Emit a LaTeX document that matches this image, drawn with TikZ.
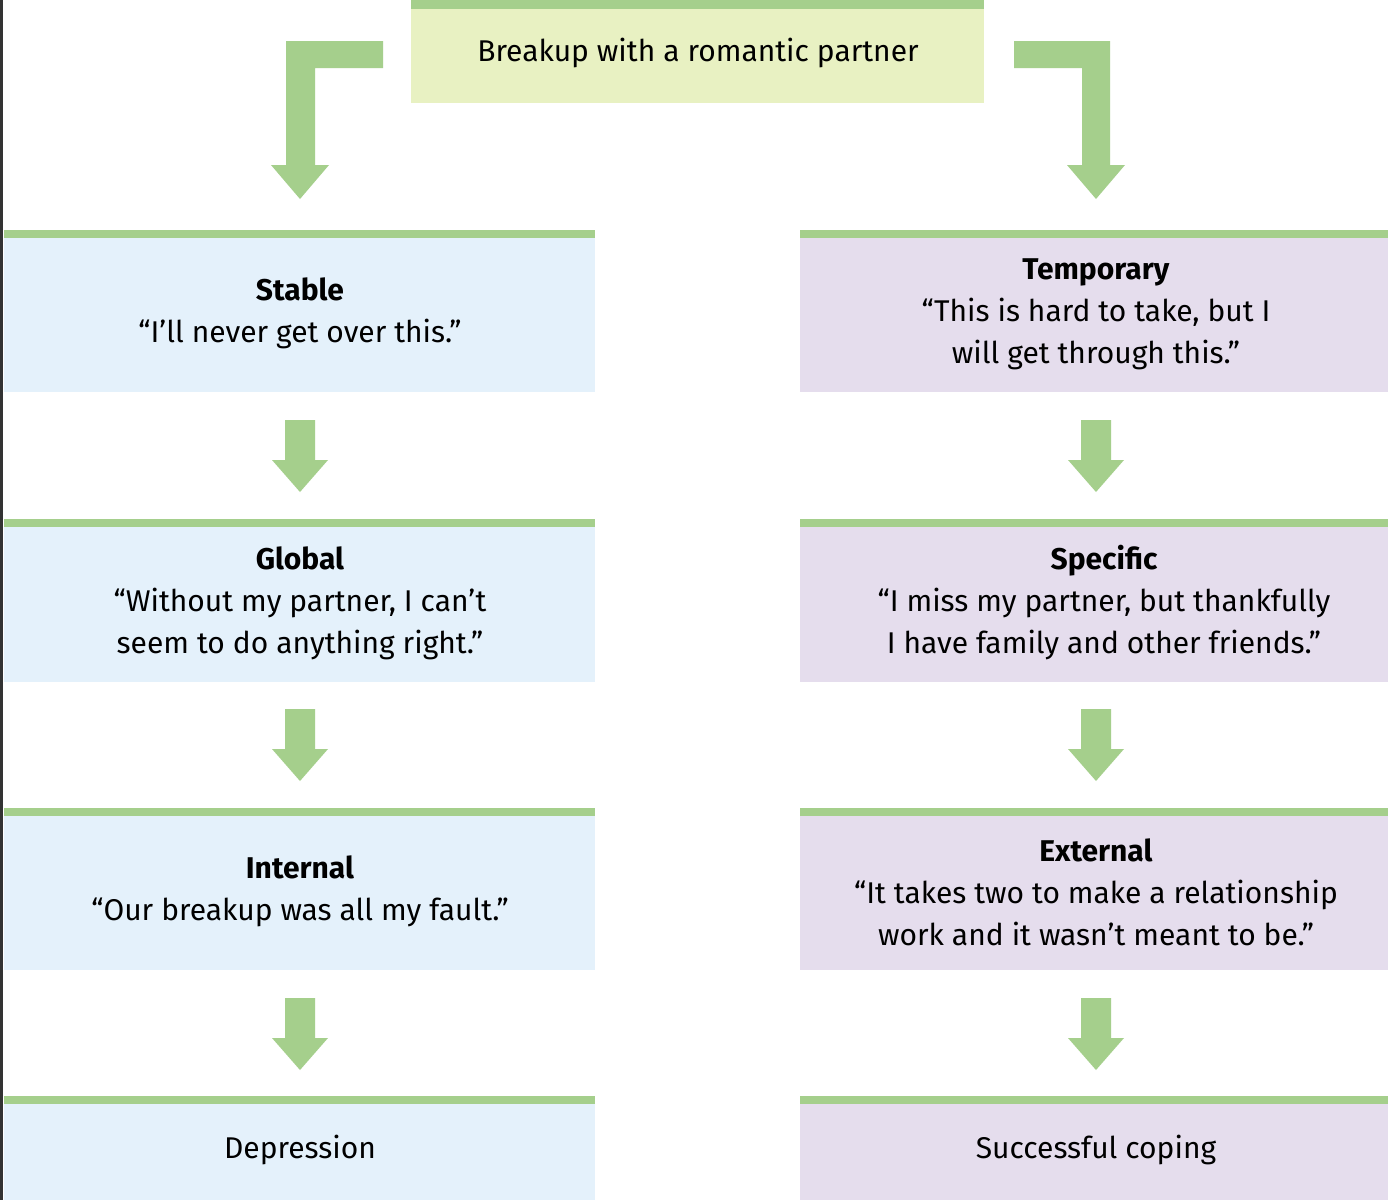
\documentclass[tikz,border=0pt]{standalone}
\usepackage{fontspec}
\setmainfont{Fira Sans}
\begin{document}
\begin{tikzpicture}[x=0.5pt,y=-0.5pt]
\definecolor{gr}{HTML}{A5CF8C}
\definecolor{yb}{HTML}{E8F1C2}
\definecolor{lb}{HTML}{E4F1FB}
\definecolor{lv}{HTML}{E5DDED}
\tikzset{txt/.style={align=center,font=\fontsize{15}{21}\selectfont,inner sep=0pt}}
\useasboundingbox (0,0) rectangle (1388,1200);
\fill[white] (0,0) rectangle (1388,1200);
\fill[black!80] (0,0) rectangle (3,1200);
% top box
\fill[yb] (411,0) rectangle (984,103);
\fill[gr] (411,0) rectangle (984,9);
\node[txt] (top) at (698,53) {Breakup with a romantic partner};
% boxes
\foreach \y/\h in {230/162,519/163,808/162,1096/104}{
  \fill[lb] (4,\y) rectangle (595,\y+\h);
  \fill[gr] (4,\y) rectangle (595,\y+8);
  \fill[lv] (800,\y) rectangle (1388,\y+\h);
  \fill[gr] (800,\y) rectangle (1388,\y+8);
}
\node[txt] (s) at (300,313) {\textbf{Stable}\\“I’ll never get over this.”};
\node[txt] (g) at (300,603) {\textbf{Global}\\“Without my partner, I can’t\\seem to do anything right.”};
\node[txt] (i) at (300,891) {\textbf{Internal}\\“Our breakup was all my fault.”};
\node[txt] (d) at (300,1150) {Depression};
\node[txt] (t) at (1096,314) {\textbf{Temporary}\\“This is hard to take, but I\\will get through this.”};
\node[txt] (sp) at (1104,603) {\textbf{Specific}\\“I miss my partner, but thankfully\\I have family and other friends.”};
\node[txt] (e) at (1096,892) {\textbf{External}\\“It takes two to make a relationship\\work and it wasn’t meant to be.”};
\node[txt] (c) at (1096,1150) {Successful coping};
% small arrows
\foreach \x in {300,1096}{
  \foreach \y in {420,709,998}{
    \fill[gr] (\x-15,\y) -- (\x+15,\y) -- (\x+15,\y+40) -- (\x+28,\y+40) -- (\x,\y+72) -- (\x-28,\y+40) -- (\x-15,\y+40) -- cycle;
  }
}
% elbow arrows
\fill[gr] (383,41) -- (383,68) -- (315,68) -- (315,165) -- (329,165) -- (300,199) -- (271,165) -- (286,165) -- (286,41) -- cycle;
\fill[gr] (1014,41) -- (1014,68) -- (1082,68) -- (1082,165) -- (1067,165) -- (1096,199) -- (1125,165) -- (1110,165) -- (1110,41) -- cycle;
\end{tikzpicture}
\end{document}
